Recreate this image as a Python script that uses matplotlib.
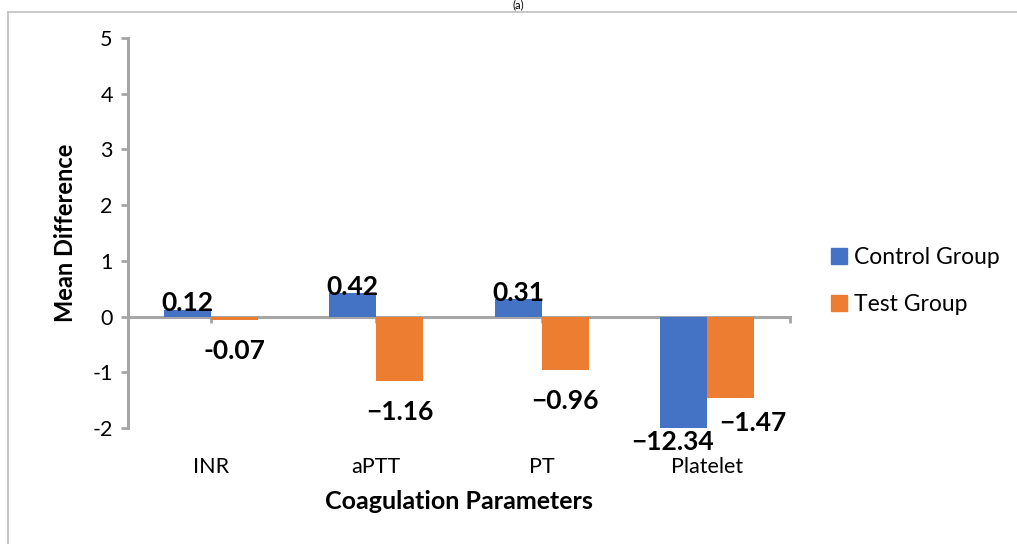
import numpy as np
import matplotlib
matplotlib.use("Agg")
import matplotlib.pyplot as plt
from matplotlib.lines import Line2D
from matplotlib.patches import Patch

plt.rcParams.update({
    "font.family": ["Lato", "DejaVu Sans"],
    "axes.unicode_minus": False,
    "figure.facecolor": "white",
})

# data
params = ["INR", "aPTT", "PT", "Platelet"]
control = [0.12, 0.42, 0.31, -12.34]
test = [-0.07, -1.16, -0.96, -1.47]
control_lbl = ["0.12", "0.42", "0.31", "\u221212.34"]
test_lbl = ["-0.07", "\u22121.16", "\u22120.96", "\u22121.47"]
series_names = ["Control Group", "Test Group"]
yticks = [-2, -1, 0, 1, 2, 3, 4, 5]

BLUE, ORANGE, GRAY = "#4472C4", "#ED7D31", "#A6A6A6"
YMIN, YMAX = -2, 5

fig = plt.figure(figsize=(10.17, 5.44), dpi=100)
ax = fig.add_axes([0.1259, 0.2132, 0.6509, 0.7169])

x = np.arange(len(params))
w = 0.284
ax.bar(x - w / 2, control, w, color=BLUE, zorder=2)
ax.bar(x + w / 2, test, w, color=ORANGE, zorder=2)

ax.set_xlim(-0.5, len(params) - 0.5)
ax.set_ylim(YMIN, YMAX)
ax.set_yticks(yticks)
ax.set_yticklabels([str(t) for t in yticks])

for s in ["top", "right", "bottom"]:
    ax.spines[s].set_visible(False)
ax.spines["left"].set_color(GRAY)
ax.spines["left"].set_linewidth(2.2)
ax.tick_params(axis="y", length=5, width=2, color=GRAY, labelsize=15.5, pad=6)

# category labels at bottom, no tick marks
ax.set_xticks(x)
ax.set_xticklabels(params)
ax.tick_params(axis="x", length=0, labelsize=15.5, pad=21)

# axis line crossing at y = 0
sec = ax.secondary_xaxis((0 - YMIN) / (YMAX - YMIN))
sec.set_xticks(list(x) + [len(params) - 0.5])
sec.set_xticklabels([])
sec.spines["bottom"].set_color(GRAY)
sec.spines["bottom"].set_linewidth(2.2)
sec.spines["bottom"].set_zorder(3)
sec.tick_params(axis="x", length=4, width=2, color=GRAY)

ax.set_xlabel("Coagulation Parameters", fontsize=18, fontweight="bold", labelpad=9)
ax.set_ylabel("Mean Difference", fontsize=17, fontweight="bold", labelpad=11)

# data labels
lblkw = dict(textcoords="offset points", ha="center", fontsize=19,
             fontweight="bold", annotation_clip=False)
for i, (v, t) in enumerate(zip(control, control_lbl)):
    if v >= 0:
        ax.annotate(t, (x[i] - w / 2, v), (0, -4), va="bottom", **lblkw)
    else:
        ax.annotate(t, (x[i] - w / 2, max(v, YMIN)), (-8, -10), va="center", **lblkw)
for i, (v, t) in enumerate(zip(test, test_lbl)):
    dx = 16 if control[i] < YMIN else 0
    dy = -18 if control[i] < YMIN else -22
    ax.annotate(t, (x[i] + w / 2, v), (dx, dy), va="center", **lblkw)

handles = [Patch(color=BLUE), Patch(color=ORANGE)]
fig.legend(handles, series_names, loc="center left", bbox_to_anchor=(0.797, 0.483),
           frameon=False, fontsize=16.5, handlelength=0.7, handleheight=0.7,
           handletextpad=0.3, labelspacing=1.15)

# outer frame and small panel title above it
fig.add_artist(Line2D([8 / 1017, 8 / 1017], [0, 1 - 12 / 544], color="#BFBFBF", lw=1.2))
fig.add_artist(Line2D([8 / 1017, 1], [1 - 12 / 544, 1 - 12 / 544], color="#BFBFBF", lw=1.2))
fig.text(0.51, 1 - 5 / 544, "(a)", ha="center", va="center", fontsize=8)

fig.savefig("out.png", dpi=100)
